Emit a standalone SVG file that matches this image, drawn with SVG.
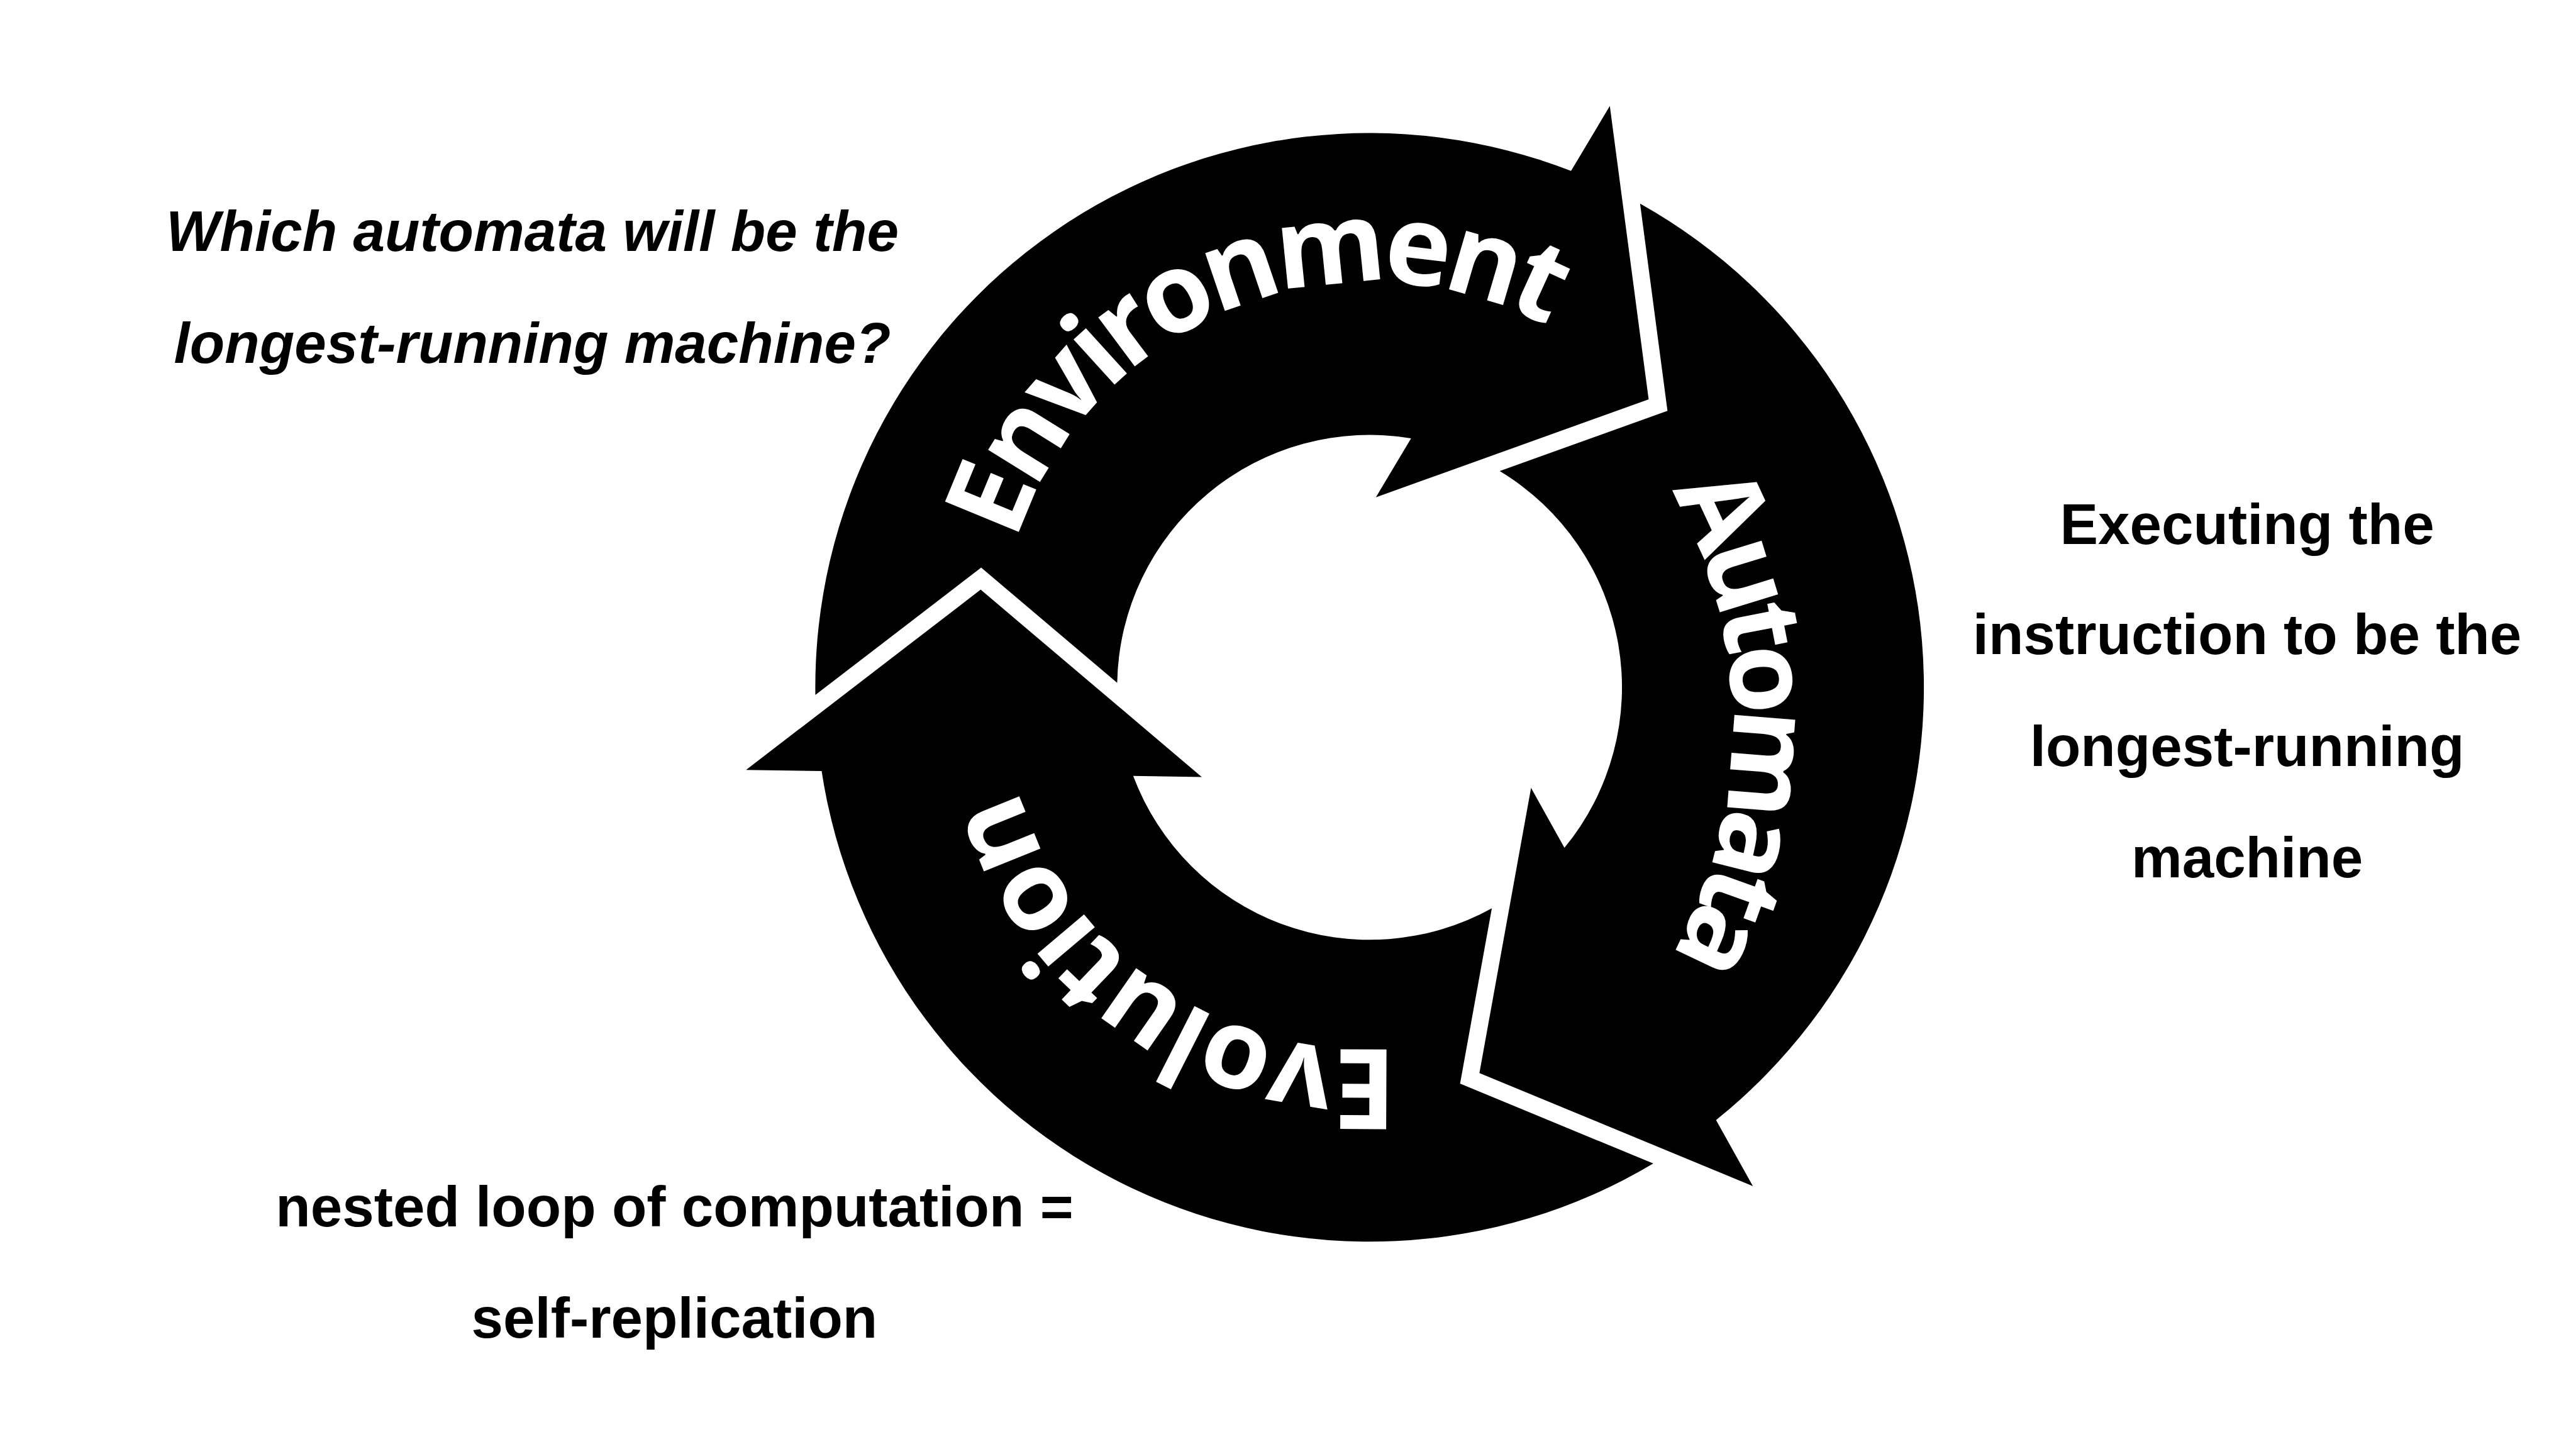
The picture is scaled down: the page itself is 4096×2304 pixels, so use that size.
<svg xmlns="http://www.w3.org/2000/svg" xmlns:xlink="http://www.w3.org/1999/xlink" width="4096" height="2304" viewBox="0 0 4096 2304">
<style>
.arrow{fill:#000}
.ring{font-family:"Open Sans","Liberation Sans",sans-serif;font-weight:700;font-size:260px;fill:#fff;text-anchor:middle}
.note{font-family:"Liberation Sans",Arial,sans-serif;font-weight:700;font-size:133px;fill:#000;text-anchor:middle}
.it{font-style:italic}
</style>
<defs>
<path id="arrowShape" d="M 1899.1 1618.8 A 1291 1291 0 0 1 3659.2 398.2 L 3749.6 247 L 3840 930.3 L 3204.7 1158.2 L 3286.7 1021.1 A 588 588 0 0 0 2602.1 1590.4 L 2285.3 1322.1 Z"/>
<path id="envCurve" d="M 3519.2 2329.8 A 868 868 0 1 1 2868.8 720.2 A 868 868 0 1 1 3519.2 2329.8"/>
<path id="autCurve" d="M 1835 1686 A 1100 1100 0 1 1 4035 1686 A 1100 1100 0 1 1 1835 1686"/>
<path id="evoCurve" d="M 3662.2 900.8 A 846 846 0 1 1 2703.8 2295.2 A 846 846 0 1 1 3662.2 900.8"/>
</defs>
<rect x="0" y="0" width="4096" height="2304" fill="#fff"/>
<g transform="scale(0.682667)">
  <g id="environment">
    <use xlink:href="#arrowShape" href="#arrowShape" class="arrow"/>
    <text class="ring"><textPath xlink:href="#envCurve" href="#envCurve" startOffset="50%" textLength="1525" lengthAdjust="spacing">Environment</textPath></text>
  </g>
  <g id="automata">
    <use xlink:href="#arrowShape" href="#arrowShape" class="arrow" transform="rotate(120 3190 1601)"/>
    <text class="ring"><textPath xlink:href="#autCurve" href="#autCurve" startOffset="50%" textLength="1135" lengthAdjust="spacing">Automata</textPath></text>
  </g>
  <g id="evolution">
    <use xlink:href="#arrowShape" href="#arrowShape" class="arrow" transform="rotate(240 3190 1601)"/>
    <text class="ring"><textPath xlink:href="#evoCurve" href="#evoCurve" startOffset="50%" textLength="1158" lengthAdjust="spacing">Evolution</textPath></text>
  </g>
  <g id="question">
    <text class="note it" x="1240" y="585">Which automata will be the</text>
    <text class="note it" x="1240" y="845">longest-running machine?</text>
  </g>
  <g id="executing">
    <text class="note" x="5234" y="1267">Executing the</text>
    <text class="note" x="5234" y="1524">instruction to be the</text>
    <text class="note" x="5234" y="1784">longest-running</text>
    <text class="note" x="5234" y="2043">machine</text>
  </g>
  <g id="nested-loop">
    <text class="note" x="1571" y="2857">nested loop of computation =</text>
    <text class="note" x="1571" y="3115">self-replication</text>
  </g>
</g>
</svg>
